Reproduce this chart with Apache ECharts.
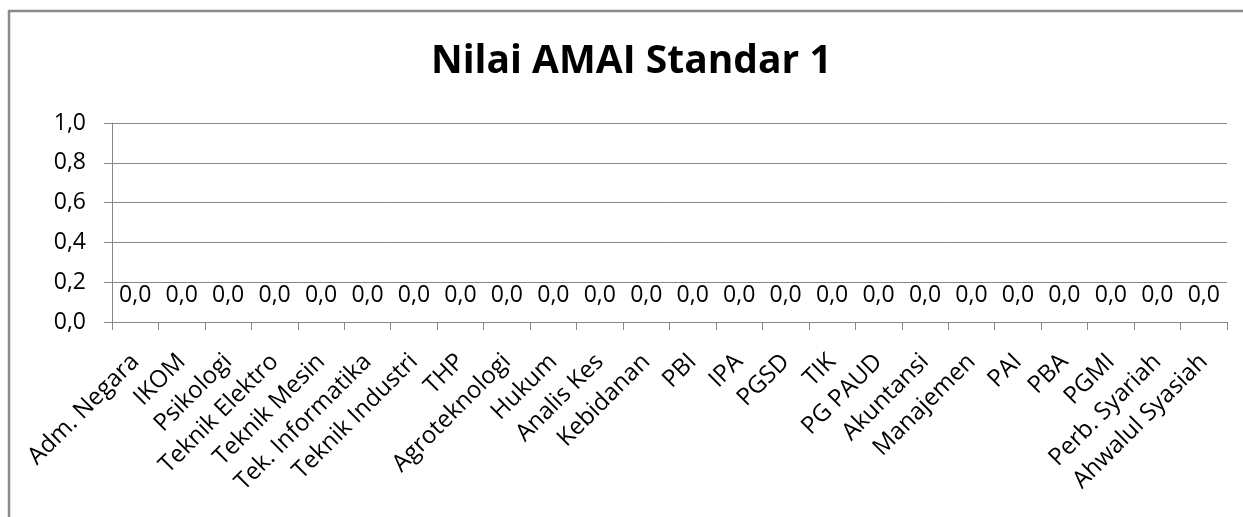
<!DOCTYPE html>
<html>
<head>
<meta charset="utf-8">
<script src="https://cdn.jsdelivr.net/npm/echarts@6/dist/echarts.min.js"></script>
<style>
html,body{margin:0;padding:0;background:#fff;}
#chart{width:1243px;height:517px;}
</style>
</head>
<body>
<div id="chart"></div>
<script>
const titleText = "Nilai AMAI Standar 1";
const categories = ["Adm. Negara","IKOM","Psikologi","Teknik Elektro","Teknik Mesin","Tek. Informatika","Teknik Industri","THP","Agroteknologi","Hukum","Analis Kes","Kebidanan","PBI","IPA","PGSD","TIK","PG PAUD","Akuntansi","Manajemen","PAI","PBA","PGMI","Perb. Syariah","Ahwalul Syasiah"];
const values = [0,0,0,0,0,0,0,0,0,0,0,0,0,0,0,0,0,0,0,0,0,0,0,0];
const yMin = 0, yMax = 1, yInterval = 0.2;

const fmt = v => Number(v).toFixed(1).replace('.', ',');
const FONT = "Open Sans";
const chart = echarts.init(document.getElementById('chart'), null, {renderer:'canvas'});
chart.setOption({
  animation:false,
  backgroundColor:'#fff',
  title:{text:titleText,left:426,top:37,textStyle:{fontFamily:FONT,fontWeight:'bold',fontSize:39,color:'#000'}},
  graphic:[{type:'polyline',silent:true,shape:{points:[[1243,11],[9,11],[9,517]]},style:{stroke:'#8a8a8a',lineWidth:2.5,fill:null}}],
  grid:{left:112,right:16,top:123,bottom:195},
  xAxis:{type:'category',data:categories,
    axisLine:{show:true,lineStyle:{color:'#868686',width:1}},
    axisTick:{show:true,length:8,alignWithLabel:false,lineStyle:{color:'#868686'}},
    axisLabel:{interval:0,rotate:45,fontFamily:FONT,fontSize:24,color:'#000',margin:36}},
  yAxis:{type:'value',min:yMin,max:yMax,interval:yInterval,
    axisLine:{show:true,lineStyle:{color:'#868686',width:1}},
    axisTick:{show:true,length:8,lineStyle:{color:'#868686'}},
    splitLine:{show:true,lineStyle:{color:'#868686',width:1}},
    axisLabel:{formatter:fmt,fontFamily:FONT,fontSize:23,color:'#000',margin:26}},
  series:[{type:'bar',data:values,barWidth:'60%',itemStyle:{color:'#4f81bd'},
    label:{show:true,position:'top',distance:15,formatter:p=>fmt(p.value),fontFamily:FONT,fontSize:23,color:'#000'}}]
});
</script>
</body>
</html>
